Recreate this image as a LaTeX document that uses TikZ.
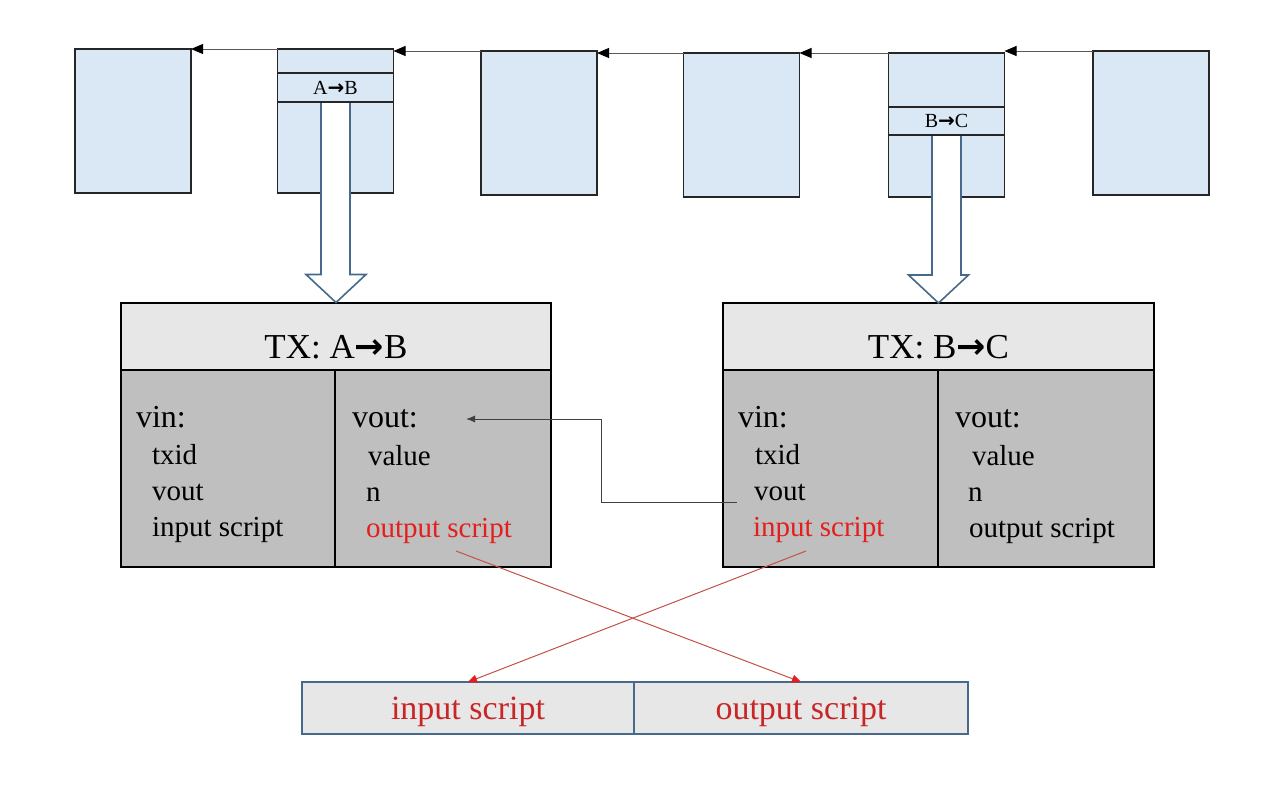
\documentclass[tikz,border=0pt]{standalone}
\usepackage{fontspec}
\setmainfont{Liberation Serif}
\newfontfamily\arrowfont{DejaVu Sans}
\usetikzlibrary{calc, positioning, arrows.meta}

\definecolor{blockblue}{RGB}{218,232,245}
\definecolor{headgray}{RGB}{231,231,231}
\definecolor{bodygray}{RGB}{191,191,191}
\definecolor{arrowblue}{RGB}{70,105,140}
\definecolor{scriptred}{RGB}{228,30,30}
\definecolor{darkred}{RGB}{200,38,38}
\definecolor{linkred}{RGB}{196,80,72}
\newcommand{\txarrow}{{\arrowfont\bfseries →}}

\begin{document}
\begin{tikzpicture}[x=1pt, y=-1pt, outer sep=0pt,
   block node/.style={rectangle, draw=black!85, line width=1.6pt, fill=blockblue, minimum width=116pt, minimum height=144pt, inner sep=0pt},
   row node/.style={rectangle, draw=black!85, line width=1.6pt, fill=blockblue, minimum width=116pt, minimum height=29pt, inner sep=0pt, font=\fontsize{20}{20}\selectfont},
   head node/.style={rectangle, draw=black, line width=2pt, fill=headgray, minimum height=67pt, text height=44pt, text depth=0pt, font=\fontsize{35}{35}\selectfont},
   body node/.style={rectangle, draw=black, line width=2pt, fill=bodygray, minimum height=197pt},
   field/.style={anchor=base west, inner sep=0pt, font=\fontsize{32}{32}\selectfont},
   item/.style={anchor=base west, inner sep=0pt, font=\fontsize{29}{29}\selectfont},
   script node/.style={rectangle, draw=arrowblue, line width=1.6pt, fill=headgray, minimum height=52pt, text depth=0pt, text=darkred, font=\fontsize{34}{34}\selectfont},
   chain link/.style={draw=black!65, line width=1pt, -{Triangle[length=12pt,width=10pt,color=black]}},
   hollow/.style={draw=arrowblue, line width=1.6pt, fill=white, line join=miter},
   link/.style={draw=black!75, line width=1pt, -{Latex[length=9pt,width=7pt]}},
   cross/.style={draw=linkred, line width=1pt, -{Triangle[length=9pt,width=8pt,color=scriptred]}}]
   \useasboundingbox (0,0) rectangle (1280,811);

   % chain of blocks
   \node[block node] (b1) at (133,121) {};
   \node[block node] (b2) at (335.5,121) {};
   \node[block node] (b3) at (539,123) {};
   \node[block node] (b4) at (741.5,125) {};
   \node[block node] (b5) at (946.5,125) {};
   \node[block node] (b6) at (1151,123) {};

   \draw[chain link] (b2.north west) -- (b1.east |- b2.north west);
   \draw[chain link] (b3.north west) -- (b2.east |- b3.north west);
   \draw[chain link] (b4.north west) -- (b3.east |- b4.north west);
   \draw[chain link] (b5.north west) -- (b4.east |- b5.north west);
   \draw[chain link] (b6.north west) -- (b5.east |- b6.north west);

   % transactions
   \node[head node, minimum width=430pt] (tx1) at (336,336) {TX: A\txarrow B};
   \node[body node, minimum width=214pt, below right=0pt of tx1.south west] (in1) {};
   \node[body node, minimum width=216pt, below left=0pt of tx1.south east] (out1) {};

   \node[head node, minimum width=431pt] (tx2) at (938.5,336.5) {TX: B\txarrow C};
   \node[body node, minimum width=215pt, below right=0pt of tx2.south west] (in2) {};
   \node[body node, minimum width=216pt, below left=0pt of tx2.south east] (out2) {};

   % hollow arrows
   \draw[hollow] ($(b2.north)+(-14.5,54)$) |- ($(tx1.north)+(-30,-28)$) -- (tx1.north) -- ($(tx1.north)+(30,-28)$) -| ($(b2.north)+(14.5,54)$);
   \draw[hollow] ($(b5.north)+(-14.5,83)$) |- ($(tx2.north)+(-30,-28)$) -- (tx2.north) -- ($(tx2.north)+(30,-28)$) -| ($(b5.north)+(14.5,83)$);

   \node[row node] (ab) at (335.5,87.5) {A\txarrow B};
   \node[row node, minimum height=28pt] (bc) at (946.5,121) {B\txarrow C};

   % fields
   \node[field] (vin1) at (136,427) {vin:};
   \node[item] (txid1) at (152,464) {txid};
   \node[item] (vout1) at (152,500) {vout};
   \node[item] (inscr1) at (152,536) {input script};
   \node[field] (vouthd1) at (352,427) {vout:};
   \node[item] (value1) at (368,465) {value};
   \node[item] (n1) at (366,501) {n};
   \node[item, text=scriptred] (outscr1) at (366,537) {output script};

   \node[field] (vin2) at (738,427) {vin:};
   \node[item] (txid2) at (755,464) {txid};
   \node[item] (vout2) at (754,500) {vout};
   \node[item, text=scriptred] (inscr2) at (753,536) {input script};
   \node[field] (vouthd2) at (955,427) {vout:};
   \node[item] (value2) at (972,465) {value};
   \node[item] (n2) at (968,501) {n};
   \node[item] (outscr2) at (969,537) {output script};

   % scripts
   \node[script node, minimum width=332pt] (inS) at (468,708) {input script};
   \node[script node, minimum width=334pt, right=0pt of inS] (outS) {output script};

   \coordinate (src) at (737,502);
   \coordinate (dst) at (466,419);
   \draw[link] (src) -| ($(src)!.5!(dst)$) |- (dst);

   \coordinate (fromA) at (456,551);
   \coordinate (fromB) at (806,551);
   \draw[cross] (fromA) -- (outS.north);
   \draw[cross] (fromB) -- (inS.north);
\end{tikzpicture}
\end{document}
